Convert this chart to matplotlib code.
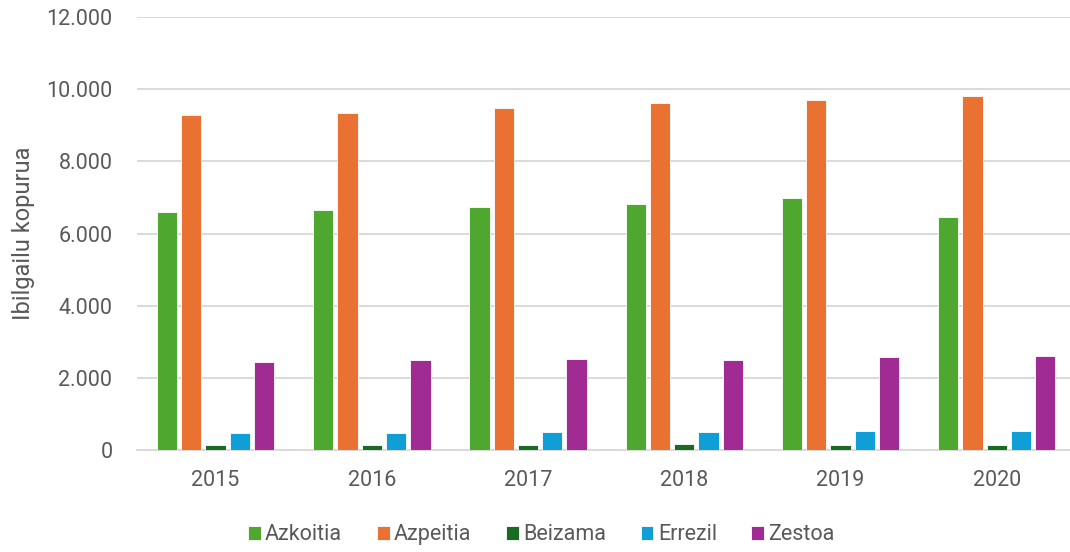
import numpy as np
import matplotlib.pyplot as plt
from matplotlib.ticker import FuncFormatter

plt.rcParams['font.family'] = ['Roboto', 'DejaVu Sans']

# urteak eta herriak
years = ['2015', '2016', '2017', '2018', '2019', '2020']
azkoitia = [6590, 6650, 6750, 6810, 6980, 6475]
azpeitia = [9275, 9340, 9480, 9625, 9700, 9810]
beizama = [160, 160, 160, 175, 165, 165]
errezil = [485, 495, 510, 505, 540, 545]
zestoa = [2450, 2495, 2520, 2500, 2595, 2610]

series = [
    ('Azkoitia', azkoitia, '#4EA72E'),
    ('Azpeitia', azpeitia, '#E97132'),
    ('Beizama', beizama, '#196B24'),
    ('Errezil', errezil, '#0F9ED5'),
    ('Zestoa', zestoa, '#A02B93'),
]

text_col = '#595959'
grid_col = '#D9D9D9'

fig = plt.figure(figsize=(10.7, 5.52), dpi=100)
# plot area runs a little past the right edge
ax = fig.add_axes([0.1285, 0.1839, 0.876, 0.7853])

x = np.arange(len(years))
pitch = 0.1555
width = 0.13
for i, (name, vals, col) in enumerate(series):
    ax.bar(x + (i - 2) * pitch, vals, width, color=col, label=name,
           edgecolor='white', linewidth=0.6, zorder=3)

ax.set_xlim(-0.5, len(years) - 0.5)
ax.set_ylim(0, 12000)
ax.set_yticks(np.arange(0, 12001, 2000))
ax.yaxis.set_major_formatter(FuncFormatter(lambda v, p: f'{int(v):,}'.replace(',', '.')))
ax.set_xticks(x)
ax.set_xticklabels(years)

ax.grid(axis='y', color=grid_col, linewidth=1.4, zorder=0)
for s in ['top', 'right', 'left']:
    ax.spines[s].set_visible(False)
ax.spines['bottom'].set_color(grid_col)
ax.spines['bottom'].set_linewidth(1.4)
ax.tick_params(length=0, labelsize=15.5, labelcolor=text_col)
ax.tick_params(axis='y', pad=18)
ax.tick_params(axis='x', pad=14)

ax.set_ylabel('Ibilgailu kopurua', fontsize=17, color=text_col, labelpad=8)

leg = fig.legend(loc='center', bbox_to_anchor=(0.506, 0.031), ncol=5, frameon=False,
                 fontsize=15.5, handlelength=0.6, handleheight=0.6,
                 handletextpad=0.2, columnspacing=1.6)
for t in leg.get_texts():
    t.set_color(text_col)

fig.savefig('out.png', dpi=100)
